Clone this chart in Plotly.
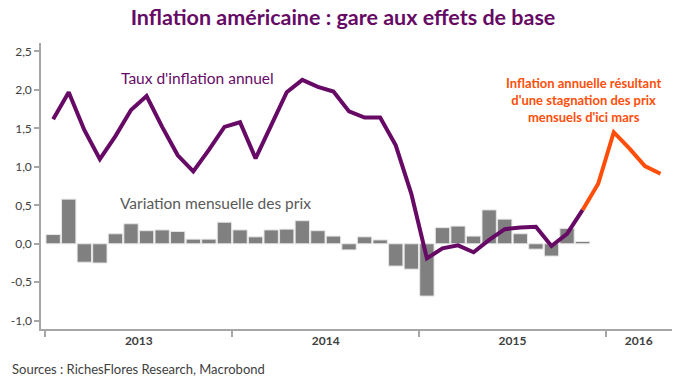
import plotly.graph_objects as go

# Months Jan 2013 .. Apr 2016
months = [f"{y}-{m:02d}" for y in (2013, 2014, 2015, 2016) for m in range(1, 13)][:40]

# Monthly price change (%), Jan 2013 .. Nov 2015
monthly_change = [0.12, 0.58, -0.24, -0.25, 0.13, 0.26, 0.17, 0.18, 0.16, 0.06, 0.06, 0.28,
                  0.18, 0.09, 0.18, 0.19, 0.30, 0.17, 0.10, -0.08, 0.09, 0.05, -0.29, -0.33,
                  -0.68, 0.21, 0.23, 0.10, 0.44, 0.32, 0.13, -0.07, -0.16, 0.20, 0.03]

# Annual inflation (%), Jan 2013 .. Nov 2015
annual_inflation = [1.62, 1.97, 1.48, 1.10, 1.40, 1.74, 1.92, 1.52, 1.15, 0.94, 1.22, 1.52,
                    1.58, 1.11, 1.54, 1.97, 2.13, 2.04, 1.98, 1.72, 1.64, 1.64, 1.28, 0.65,
                    -0.19, -0.06, -0.02, -0.11, 0.05, 0.19, 0.21, 0.22, -0.03, 0.13, 0.44]

# Projected annual inflation with flat monthly prices, Nov 2015 .. Apr 2016
projection = [0.44, 0.78, 1.45, 1.24, 1.01, 0.91]

year_labels = ["2013", "2014", "2015", "2016"]
year_label_pos = [5.5, 17.5, 29.5, 37.6]
year_bounds = [-0.5, 11.5, 23.5, 35.5]
y_ticks = [2.5, 2.0, 1.5, 1.0, 0.5, 0.0, -0.5, -1.0]

x_idx = list(range(len(months)))
proj_start = len(annual_inflation) - 1

PURPLE = "#660a66"
ORANGE = "#ff4e0a"
FONT = "Lato"
W, H = 686, 383
ML, MR, MT, MB = 41, 14, 43, 54

fig = go.Figure()
fig.add_trace(go.Bar(
    x=x_idx[:len(monthly_change)], y=monthly_change,
    marker=dict(color="#808080", line=dict(color="#e6e6e6", width=1)),
    width=0.92, hoverinfo="skip", showlegend=False))
fig.add_trace(go.Scatter(
    x=x_idx[:len(annual_inflation)], y=annual_inflation, mode="lines",
    line=dict(color=PURPLE, width=4), showlegend=False))
fig.add_trace(go.Scatter(
    x=x_idx[proj_start:proj_start + len(projection)], y=projection, mode="lines",
    line=dict(color=ORANGE, width=4), showlegend=False))

fig.update_layout(
    width=W, height=H,
    margin=dict(l=ML, r=MR, t=MT, b=MB),
    paper_bgcolor="white", plot_bgcolor="white",
    font=dict(family=FONT, color="#404040", size=12),
    title=dict(text="<b>Inflation américaine : gare aux effets de base</b>",
               x=0.5, xanchor="center", y=1 - 17 / H, yanchor="middle",
               font=dict(family=FONT, size=21.5, color=PURPLE)),
    bargap=0.08,
)
fig.update_xaxes(
    range=[-0.78, 39.74], showgrid=False, zeroline=False,
    showline=True, linecolor="#a6a6a6", linewidth=1.5,
    tickmode="array", tickvals=year_label_pos,
    ticktext=[f"<b>{t}</b>" for t in year_labels], ticks="",
    tickfont=dict(size=12, color="#404040"),
    minor=dict(tickmode="array", tickvals=year_bounds, ticks="outside",
               ticklen=6, tickcolor="#a6a6a6", tickwidth=1.5),
)
fig.update_yaxes(
    range=[-1.108, 2.61], showgrid=False, zeroline=False,
    showline=True, linecolor="#a6a6a6", linewidth=1.5,
    tickmode="array", tickvals=y_ticks,
    ticktext=[f"{v:.1f}".replace(".", ",") for v in y_ticks],
    ticks="outside", ticklen=5, tickcolor="#a6a6a6", tickwidth=1.5,
    tickfont=dict(size=12, color="#404040"),
)

fig.add_annotation(text="Taux d'inflation annuel", x=9.26, y=2.15, xref="x", yref="y",
                   showarrow=False, font=dict(size=15.5, color=PURPLE, family=FONT))
fig.add_annotation(text="Variation mensuelle des prix", x=10.4, y=0.53, xref="x", yref="y",
                   showarrow=False, font=dict(size=15.5, color="#595959", family=FONT))
fig.add_annotation(text="<b>Inflation annuelle résultant<br>d'une stagnation des prix<br>mensuels d'ici mars</b>",
                   x=34.03, y=1.87, xref="x", yref="y", showarrow=False, align="center",
                   font=dict(size=13, color=ORANGE, family=FONT))
fig.add_annotation(text="Sources : RichesFlores Research, Macrobond",
                   xref="paper", yref="paper",
                   x=(10 - ML) / (W - ML - MR), y=(H - MB - 369) / (H - MT - MB),
                   xanchor="left", yanchor="middle", showarrow=False,
                   font=dict(size=13, color="#404040", family=FONT))

fig.write_html("out.html", config={"displayModeBar": False},
               post_script="document.body.style.margin='0';")
